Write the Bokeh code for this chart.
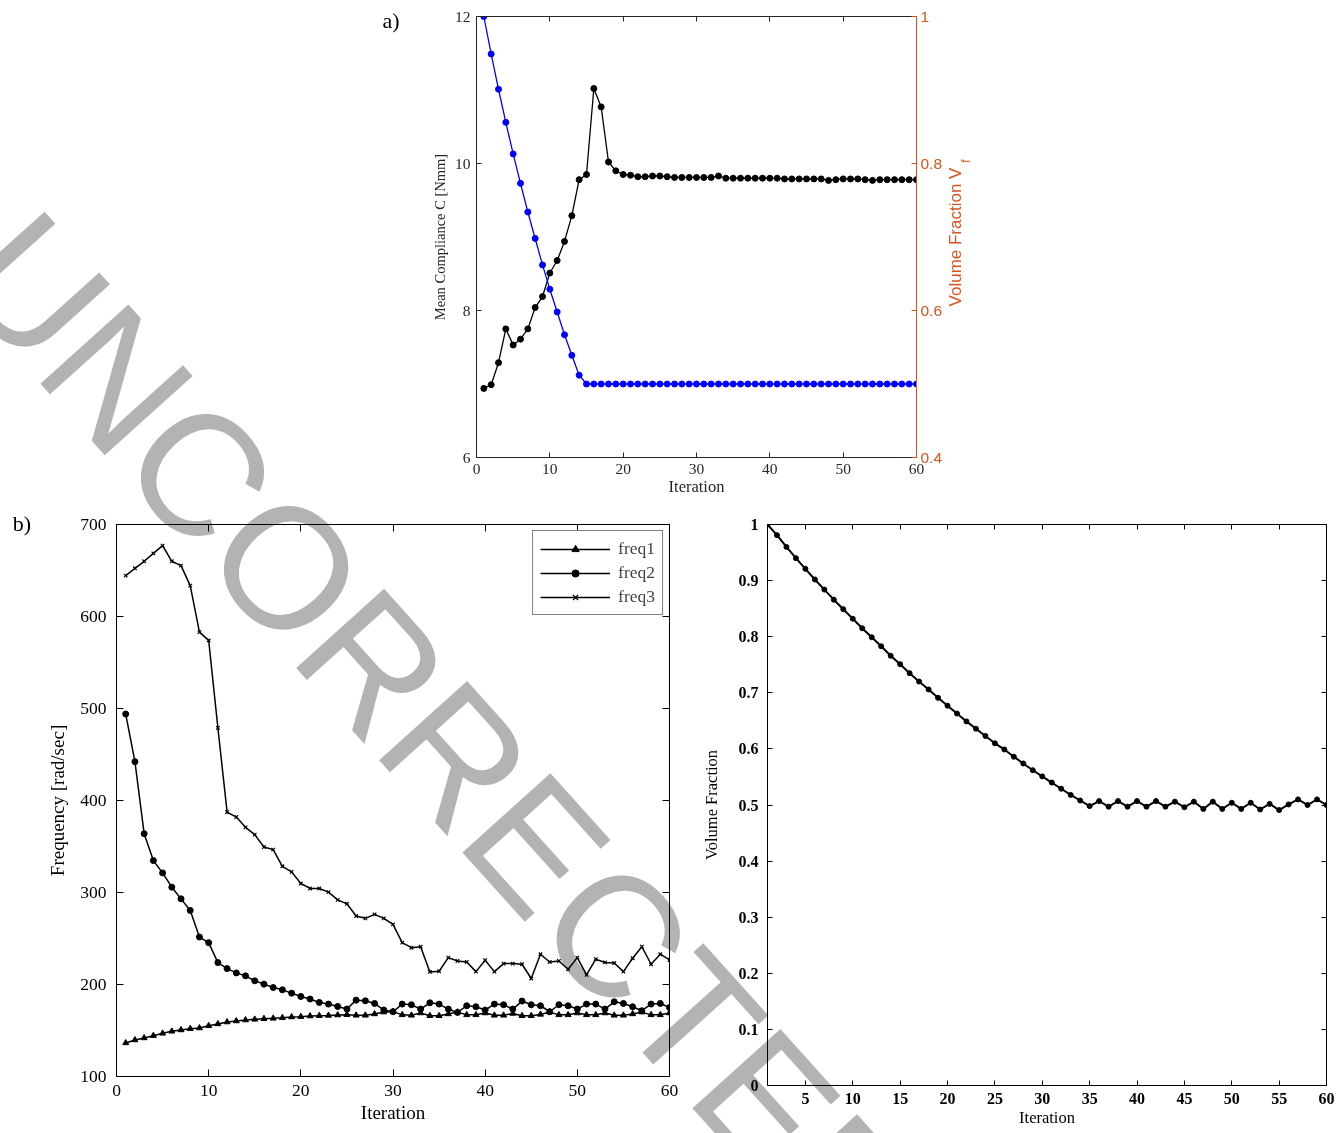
from bokeh.plotting import figure
from bokeh.models import Range1d, LinearAxis, FixedTicker, Legend, LegendItem, Div
from bokeh.layouts import column, row
from bokeh.embed import file_html
from bokeh.resources import INLINE

SERIF = "Liberation Serif"
SANS = "Liberation Sans"
ORANGE = "#D95319"
BLUE = "#0000FF"
DARK = "#262626"
WM_GRAY = "#b3b3b3"

# ---------------- panel a data ----------------
iter_a = list(range(1, 61))
compliance = [
    6.94, 6.99, 7.29, 7.75, 7.53, 7.61, 7.75, 8.04, 8.19, 8.51,
    8.68, 8.94, 9.29, 9.78, 9.85, 11.02, 10.77, 10.02, 9.90, 9.85,
    9.84, 9.82, 9.82, 9.83, 9.83, 9.82, 9.81, 9.81, 9.81, 9.81,
    9.81, 9.81, 9.83, 9.80, 9.80, 9.80, 9.80, 9.80, 9.80, 9.80,
    9.80, 9.79, 9.79, 9.79, 9.79, 9.79, 9.79, 9.77, 9.78, 9.79,
    9.79, 9.79, 9.78, 9.77, 9.78, 9.78, 9.78, 9.78, 9.78, 9.78,
]
vol_frac_a = [
    1.000, 0.949, 0.901, 0.856, 0.813, 0.773, 0.734, 0.698, 0.662, 0.629,
    0.598, 0.567, 0.539, 0.512, 0.500, 0.500, 0.500, 0.500, 0.500, 0.500,
    0.500, 0.500, 0.500, 0.500, 0.500, 0.500, 0.500, 0.500, 0.500, 0.500,
    0.500, 0.500, 0.500, 0.500, 0.500, 0.500, 0.500, 0.500, 0.500, 0.500,
    0.500, 0.500, 0.500, 0.500, 0.500, 0.500, 0.500, 0.500, 0.500, 0.500,
    0.500, 0.500, 0.500, 0.500, 0.500, 0.500, 0.500, 0.500, 0.500, 0.500,
]
a_x_ticks = [0, 10, 20, 30, 40, 50, 60]
a_left_ticks = [6, 8, 10, 12]
a_right_ticks = [0.4, 0.6, 0.8, 1.0]
a_right_labels = ["0.4", "0.6", "0.8", "1"]

# ---------------- panel b data ----------------
iter_b = list(range(1, 61))
freq1 = [
    136.5, 139.7, 141.9, 144.4, 146.9, 149.1, 150.6, 152.0, 152.7, 155.2,
    157.1, 159.2, 160.3, 161.4, 162.1, 162.8, 163.2, 163.9, 164.7, 165.0,
    165.7, 166.1, 166.4, 166.8, 167.2, 166.5, 166.5, 168.0, 170.0, 170.5,
    167.0, 166.5, 169.0, 166.0, 166.0, 168.0, 170.0, 167.0, 167.0, 169.0,
    166.5, 166.5, 168.5, 166.0, 166.0, 167.5, 170.0, 167.0, 167.0, 169.0,
    167.0, 167.0, 169.0, 166.5, 166.5, 168.0, 170.0, 167.0, 167.0, 169.0,
]
freq2 = [
    494.0, 442.2, 363.9, 334.7, 321.3, 305.8, 293.1, 280.5, 251.6, 245.5,
    223.8, 217.3, 212.6, 209.4, 204.0, 200.4, 196.7, 194.2, 190.6, 187.0,
    184.2, 180.5, 178.7, 176.1, 173.3, 183.0, 182.3, 179.4, 172.2, 170.4,
    178.7, 178.0, 173.3, 180.1, 178.7, 173.3, 169.6, 176.9, 175.8, 172.2,
    178.7, 178.0, 173.3, 182.0, 178.0, 176.9, 170.4, 178.0, 176.9, 173.3,
    178.7, 178.7, 173.3, 181.2, 179.4, 175.8, 171.5, 178.7, 179.4, 175.0,
]
freq3 = [
    644.4, 652.4, 660.0, 668.6, 677.0, 660.0, 655.3, 633.6, 583.0, 574.0,
    479.0, 387.3, 382.0, 370.8, 362.9, 349.4, 346.6, 328.5, 322.4, 309.8,
    304.4, 304.4, 300.4, 292.0, 287.7, 274.4, 271.9, 276.2, 271.9, 265.4,
    245.5, 240.0, 241.1, 213.7, 214.4, 229.2, 225.6, 224.5, 214.0, 226.4,
    214.0, 222.7, 222.7, 222.0, 206.5, 232.9, 224.5, 225.6, 216.6, 229.2,
    210.5, 227.5, 224.0, 223.4, 214.0, 228.5, 241.1, 222.0, 232.9, 226.7,
]
b_series_names = ["freq1", "freq2", "freq3"]
b_x_ticks = [0, 10, 20, 30, 40, 50, 60]
b_y_ticks = [100, 200, 300, 400, 500, 600, 700]

# ---------------- panel c data ----------------
iter_c = list(range(1, 61))
vol_frac_c = [
    1.000, 0.981, 0.960, 0.940, 0.921, 0.902, 0.884, 0.866, 0.849, 0.832,
    0.815, 0.799, 0.783, 0.766, 0.751, 0.735, 0.720, 0.706, 0.691, 0.677,
    0.663, 0.649, 0.636, 0.623, 0.610, 0.599, 0.586, 0.574, 0.562, 0.551,
    0.540, 0.529, 0.518, 0.508, 0.498, 0.507, 0.497, 0.507, 0.497, 0.507,
    0.497, 0.507, 0.497, 0.506, 0.496, 0.506, 0.493, 0.506, 0.493, 0.504,
    0.493, 0.504, 0.492, 0.502, 0.491, 0.501, 0.510, 0.500, 0.510, 0.500,
]
c_x_ticks = [5, 10, 15, 20, 25, 30, 35, 40, 45, 50, 55, 60]
c_y_ticks = [0, 0.1, 0.2, 0.3, 0.4, 0.5, 0.6, 0.7, 0.8, 0.9, 1.0]
c_y_labels = ["0", "0.1", "0.2", "0.3", "0.4", "0.5", "0.6", "0.7", "0.8", "0.9", "1"]

watermark_text = "UNCORRECTED"
panel_tags = ["a)", "b)"]
right_label_a = ("Volume Fraction V", "f")


def base_fig(fw, fh, bl, br, bt, bb, xr, yr):
    p = figure(frame_width=fw, frame_height=fh, min_border_left=bl, min_border_right=br,
               min_border_top=bt, min_border_bottom=bb, x_range=Range1d(*xr),
               y_range=Range1d(*yr), output_backend="svg", toolbar_location=None, title=None)
    p.grid.visible = False
    p.outline_line_color = None
    p.background_fill_color = "white"
    p.border_fill_color = "white"
    return p


def fmt_axis(ax, ticks, color, font, size, tick_in, standoff, overrides=None, bold=False,
             label=None, label_size=None, label_standoff=5, lw=1):
    ax.ticker = FixedTicker(ticks=ticks)
    ax.axis_line_color = color
    ax.axis_line_width = lw
    ax.major_tick_line_color = color
    ax.major_tick_line_width = lw
    ax.major_tick_in = tick_in
    ax.major_tick_out = 0
    ax.minor_tick_line_color = None
    ax.major_label_text_color = color
    ax.major_label_text_font = font
    ax.major_label_text_font_size = size
    ax.major_label_standoff = standoff
    ax.major_label_text_font_style = "bold" if bold else "normal"
    if overrides:
        ax.major_label_overrides = overrides
    if label is not None:
        ax.axis_label = label
        ax.axis_label_text_font = font
        ax.axis_label_text_font_size = label_size
        ax.axis_label_text_font_style = "normal"
        ax.axis_label_text_color = color
        ax.axis_label_standoff = label_standoff


def mute_axis(ax, ticks, color, tick_in, lw=1):
    fmt_axis(ax, ticks, color, SERIF, "1px", tick_in, 0, lw=lw)
    ax.major_label_text_color = None


# ================= panel a =================
pa = base_fig(440, 441, 476, 424, 16, 48, (0, 60), (6, 12))
pa.extra_y_ranges = {"vf": Range1d(0.4, 1.0)}
ax_r = LinearAxis(y_range_name="vf")
pa.add_layout(ax_r, "right")
ax_t = LinearAxis()
pa.add_layout(ax_t, "above")
fmt_axis(pa.below[0], a_x_ticks, DARK, SERIF, "15.5px", 5, 6,
         label="Iteration", label_size="16.5px", label_standoff=0)
fmt_axis(pa.left[0], a_left_ticks, DARK, SERIF, "15.5px", 5, 6,
         label="Mean Compliance C [Nmm]", label_size="14.5px", label_standoff=4)
fmt_axis(ax_r, a_right_ticks, ORANGE, SANS, "15.5px", 5, 4,
         overrides=dict(zip(a_right_ticks, a_right_labels)))
mute_axis(ax_t, a_x_ticks, DARK, 5)

pa.line(iter_a, compliance, color="black", line_width=1.3)
pa.scatter(iter_a, compliance, size=6, color="black")
pa.line(iter_a, vol_frac_a, color=BLUE, line_width=1.3, y_range_name="vf")
pa.scatter(iter_a, vol_frac_a, size=6, color=BLUE, y_range_name="vf")

# ================= panel b =================
pb = base_fig(553, 552, 116, 29, 19, 57, (0, 60), (100, 700))
bx_t = LinearAxis()
pb.add_layout(bx_t, "above")
by_r = LinearAxis()
pb.add_layout(by_r, "right")
fmt_axis(pb.below[0], b_x_ticks, "black", SERIF, "17.5px", 7, 8,
         label="Iteration", label_size="19px", label_standoff=3)
fmt_axis(pb.left[0], b_y_ticks, "black", SERIF, "17.5px", 7, 10,
         label="Frequency [rad/sec]", label_size="19px", label_standoff=9)
mute_axis(bx_t, b_x_ticks, "black", 7)
mute_axis(by_r, b_y_ticks, "black", 7)

l1 = pb.line(iter_b, freq1, color="black", line_width=1.5)
s1 = pb.scatter(iter_b, freq1, marker="triangle", size=6, color="black")
l2 = pb.line(iter_b, freq2, color="black", line_width=1.5)
s2 = pb.scatter(iter_b, freq2, marker="circle", size=6, color="black")
l3 = pb.line(iter_b, freq3, color="black", line_width=1.5)
s3 = pb.scatter(iter_b, freq3, marker="x", size=5, color="black", line_width=1.2)

legend = Legend(items=[LegendItem(label=b_series_names[0], renderers=[l1, s1]),
                       LegendItem(label=b_series_names[1], renderers=[l2, s2]),
                       LegendItem(label=b_series_names[2], renderers=[l3, s3])],
                location="top_right", margin=6, padding=7, spacing=3,
                glyph_width=70, glyph_height=18, label_standoff=8,
                label_text_font=SERIF, label_text_font_size="17.5px",
                border_line_color="black", border_line_width=1,
                background_fill_color="white", background_fill_alpha=1.0)
pb.add_layout(legend)

# ================= panel c =================
pc = base_fig(559, 561, 69, 14, 19, 48, (1, 60), (0, 1))
cx_t = LinearAxis()
pc.add_layout(cx_t, "above")
cy_r = LinearAxis()
pc.add_layout(cy_r, "right")
fmt_axis(pc.below[0], c_x_ticks, "black", SERIF, "16px", 5, 7, bold=True,
         label="Iteration", label_size="16.5px", label_standoff=1)
fmt_axis(pc.left[0], c_y_ticks, "black", SERIF, "16px", 5, 9, bold=True,
         overrides=dict(zip(c_y_ticks, c_y_labels)),
         label="Volume Fraction", label_size="16.5px", label_standoff=15)
mute_axis(cx_t, c_x_ticks, "black", 5)
mute_axis(cy_r, c_y_ticks, "black", 5)

pc.line(iter_c, vol_frac_c, color="black", line_width=2)
pc.scatter(iter_c, vol_frac_c, size=5, color="black")


# ================= free texts (page pixel positions) =================
def abs_text(x, y, text, font, size, color, rot=0, weight="normal"):
    return ('<div style="position:absolute;left:%spx;top:%spx;'
            'transform:translate(-50%%,-50%%) rotate(%sdeg);font-family:%s;'
            'font-size:%spx;font-weight:%s;color:%s;white-space:nowrap;line-height:1;">%s</div>'
            % (x, y, rot, font, size, weight, color, text))


overlay_html = "".join([
    abs_text(955, 237, right_label_a[0], SANS, 17, ORANGE, rot=-90),
    abs_text(966, 161, right_label_a[1], SANS, 12, ORANGE, rot=-90),
    abs_text(391, 21, panel_tags[0], SERIF, 22, "black"),
    abs_text(22, 524, panel_tags[1], SERIF, 22, "black"),
    abs_text(440, 738, watermark_text, SANS, 172, WM_GRAY, rot=48, weight="normal"),
])
overlay = Div(text=overlay_html, width=1340, height=1133, margin=(0, 0, 0, 0),
              styles={"position": "absolute", "left": "0px", "top": "0px",
                      "overflow": "hidden", "pointer-events": "none",
                      "mix-blend-mode": "multiply"})

layout = column(pa, row(pb, pc), overlay)
open("out.html", "w").write(file_html(layout, INLINE, "chart"))
